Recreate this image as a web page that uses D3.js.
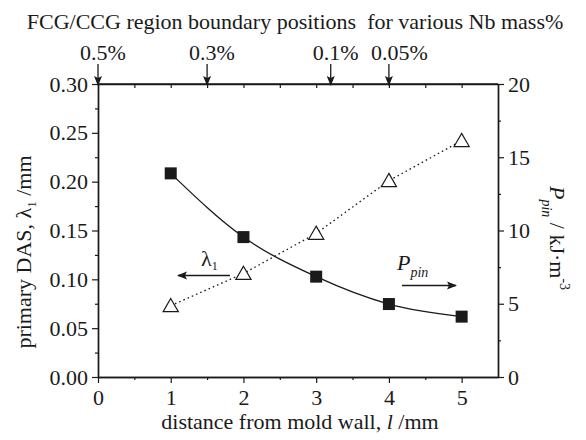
<!DOCTYPE html>
<html>
<head>
<meta charset="utf-8">
<script src="https://cdn.jsdelivr.net/npm/d3@7"></script>
<style>
  body { margin: 0; background: #fff; }
  svg text { font-family: "Liberation Serif", "Times New Roman", serif; fill: #1a1a1a; }
</style>
</head>
<body>
<svg id="chart" width="586" height="440"></svg>
<script>
// ---- data ----
const distance = [1, 2, 3, 4, 5];
const lambdaDAS = [0.073, 0.106, 0.147, 0.201, 0.242];   // left axis, mm
const pPin = [13.9, 9.55, 6.85, 4.98, 4.12];              // right axis, kJ·m^-3
const leftTicks = [0, 0.05, 0.10, 0.15, 0.20, 0.25, 0.30];
const rightTicks = [0, 5, 10, 15, 20];
const bottomTicks = [0, 1, 2, 3, 4, 5];
const nbLabels = ["0.5%", "0.3%", "0.1%", "0.05%"];
const nbPositions = [0, 1.5, 3.2, 4.0];

const svg = d3.select("#chart");
const W = 586, H = 440;
const m = { left: 98, right: 88, top: 84, bottom: 63 };
const x0 = m.left, x1 = W - m.right, y0 = m.top, y1 = H - m.bottom;

const x = d3.scaleLinear().domain([0, 5.5]).range([x0, x1]);
const yL = d3.scaleLinear().domain([0, 0.30]).range([y1, y0]);
const yR = d3.scaleLinear().domain([0, 20]).range([y1, y0]);

const FS = 22;
const ink = "#1a1a1a";

function styleAxis(g) {
  g.selectAll("path").attr("stroke", ink).attr("stroke-width", 1.4);
  g.selectAll("line").attr("stroke", ink).attr("stroke-width", 1.2);
  g.selectAll("text").style("font-size", FS + "px").attr("fill", ink)
    .style("font-family", '"Liberation Serif", serif');
}

// minor ticks
const minorX = d3.range(0.5, 5.5, 1);
const minorL = d3.range(0.025, 0.30, 0.05);
const minorR = d3.range(2.5, 20, 5);

// bottom axis
svg.append("g").attr("transform", `translate(0,${y1})`)
  .call(d3.axisBottom(x).tickValues(bottomTicks).tickFormat(d3.format("d")).tickSize(6).tickPadding(6).tickSizeOuter(0))
  .call(styleAxis);
svg.append("g").attr("transform", `translate(0,${y1})`)
  .call(d3.axisBottom(x).tickValues(minorX).tickFormat("").tickSize(3).tickSizeOuter(0))
  .call(styleAxis);

// top axis (ticks inward, no labels)
svg.append("g").attr("transform", `translate(0,${y0})`)
  .call(d3.axisBottom(x).tickValues(d3.range(0.5, 5.5, 0.5)).tickFormat("").tickSize(4).tickSizeOuter(0))
  .call(styleAxis);

// left axis
svg.append("g").attr("transform", `translate(${x0},0)`)
  .call(d3.axisLeft(yL).tickValues(leftTicks).tickFormat(d3.format(".2f")).tickSize(6).tickPadding(4).tickSizeOuter(0))
  .call(styleAxis);
svg.append("g").attr("transform", `translate(${x0},0)`)
  .call(d3.axisLeft(yL).tickValues(minorL).tickFormat("").tickSize(3).tickSizeOuter(0))
  .call(styleAxis);

// right axis
svg.append("g").attr("transform", `translate(${x1},0)`)
  .call(d3.axisRight(yR).tickValues(rightTicks).tickFormat(d3.format("d")).tickSize(6).tickPadding(4).tickSizeOuter(0))
  .call(styleAxis);
svg.append("g").attr("transform", `translate(${x1},0)`)
  .call(d3.axisRight(yR).tickValues(minorR).tickFormat("").tickSize(3).tickSizeOuter(0))
  .call(styleAxis);

// frame line top
svg.append("line").attr("x1", x0).attr("x2", x1).attr("y1", y0).attr("y2", y0)
  .attr("stroke", ink).attr("stroke-width", 1.4);

// arrow marker
const defs = svg.append("defs");
defs.append("marker").attr("id", "ah").attr("viewBox", "0 0 10 10")
  .attr("refX", 9).attr("refY", 5).attr("markerWidth", 10).attr("markerHeight", 10)
  .attr("markerUnits", "userSpaceOnUse").attr("orient", "auto")
  .append("path").attr("d", "M0,1 L10,5 L0,9 L2,5 Z").attr("fill", ink);

// lines
const lamLine = d3.line().x((d, i) => x(distance[i])).y(d => yL(d));
svg.append("path").datum(lambdaDAS).attr("d", lamLine)
  .attr("fill", "none").attr("stroke", ink).attr("stroke-width", 1.3)
  .attr("stroke-dasharray", "1.6,3");

const pLine = d3.line().x((d, i) => x(distance[i])).y(d => yR(d)).curve(d3.curveMonotoneX);
svg.append("path").datum(pPin).attr("d", pLine)
  .attr("fill", "none").attr("stroke", ink).attr("stroke-width", 1.3);

// markers
const tri = d3.symbol().type(d3.symbolTriangle).size(100);
svg.selectAll(".tri").data(lambdaDAS).join("path")
  .attr("transform", (d, i) => `translate(${x(distance[i])},${yL(d) + 1.5})`)
  .attr("d", tri).attr("fill", "#fff").attr("stroke", ink).attr("stroke-width", 1.2);

const sq = 12;
svg.selectAll(".sq").data(pPin).join("rect")
  .attr("x", (d, i) => x(distance[i]) - sq / 2).attr("y", d => yR(d) - sq / 2)
  .attr("width", sq).attr("height", sq).attr("fill", "#1a1a1a");

// top Nb arrows
nbPositions.forEach((p, i) => {
  svg.append("line").attr("x1", x(p)).attr("x2", x(p)).attr("y1", 64).attr("y2", y0 + 1)
    .attr("stroke", ink).attr("stroke-width", 1.3).attr("marker-end", "url(#ah)");
  svg.append("text").attr("x", x(p) - 18).attr("y", 60).style("font-size", FS + "px")
    .text(nbLabels[i]);
});

// title
svg.append("text").attr("x", 295).attr("y", 29).attr("text-anchor", "middle")
  .style("font-size", FS + "px").style("white-space", "pre")
  .text("FCG/CCG region boundary positions\u00a0 for various Nb mass%");

// bottom label
const bl = svg.append("text").attr("x", 300).attr("y", 429).attr("text-anchor", "middle")
  .style("font-size", FS + "px");
bl.append("tspan").text("distance from mold wall, ");
bl.append("tspan").style("font-style", "italic").text("l");
bl.append("tspan").text(" /mm");

// left label
const ll = svg.append("text").attr("transform", "translate(31,252) rotate(-90)")
  .attr("text-anchor", "middle").style("font-size", FS + "px");
ll.append("tspan").text("primary DAS, λ");
ll.append("tspan").attr("dy", 5).style("font-size", "13px").text("1");
ll.append("tspan").attr("dy", -5).text(" /mm");

// right label
const rl = svg.append("text").attr("transform", "translate(550,238) rotate(90)")
  .attr("text-anchor", "middle").style("font-size", FS + "px");
rl.append("tspan").style("font-style", "italic").text("P");
rl.append("tspan").attr("dy", 8).style("font-style", "italic").style("font-size", "14px").text("pin");
rl.append("tspan").attr("dy", -8).text(" / kJ·m");
rl.append("tspan").attr("dy", -10).style("font-size", "14px").text("-3");

// annotations
svg.append("line").attr("x1", 230).attr("x2", 178).attr("y1", 275.5).attr("y2", 275.5)
  .attr("stroke", ink).attr("stroke-width", 1.5).attr("marker-end", "url(#ah)");
const lt = svg.append("text").attr("x", 201).attr("y", 266).style("font-size", FS + "px");
lt.append("tspan").text("λ");
lt.append("tspan").attr("dy", 4).style("font-size", "12px").text("1");

svg.append("line").attr("x1", 402).attr("x2", 456).attr("y1", 285.5).attr("y2", 285.5)
  .attr("stroke", ink).attr("stroke-width", 1.5).attr("marker-end", "url(#ah)");
const pt = svg.append("text").attr("x", 397).attr("y", 270).style("font-size", FS + "px");
pt.append("tspan").style("font-style", "italic").text("P");
pt.append("tspan").attr("dy", 7).style("font-style", "italic").style("font-size", "14px").text("pin");
</script>
</body>
</html>
